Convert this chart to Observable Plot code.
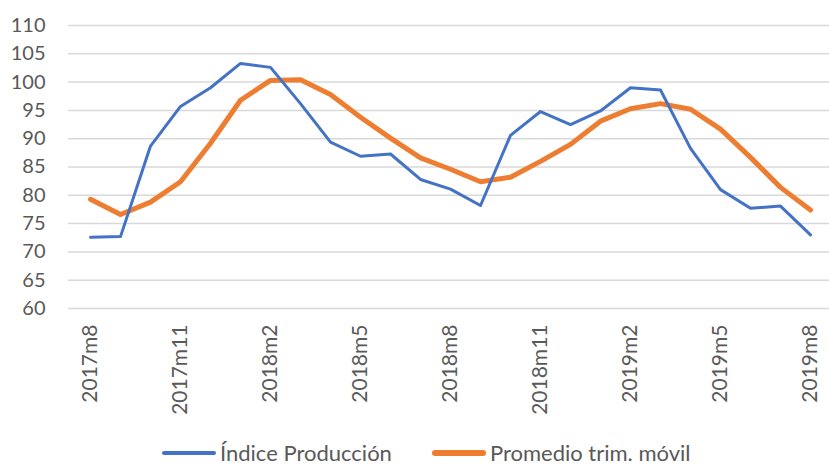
<!DOCTYPE html>
<html>
<head>
<meta charset="utf-8">
<script src="https://cdn.jsdelivr.net/npm/d3@7"></script>
<script src="https://cdn.jsdelivr.net/npm/@observablehq/plot@0.6"></script>
<style>
  html, body { margin: 0; padding: 0; background: #fff; }
  body { width: 829px; height: 465px; overflow: hidden; font-family: Lato, "Open Sans", sans-serif; }
  #chart svg { display: block; }
  .legend { display: flex; align-items: center; height: 22px; line-height: 22px; margin-top: 17px; padding-left: 162px; color: #595959; font-size: 22px; font-family: Lato, sans-serif; }
  .legend .item { display: flex; align-items: center; }
  .legend .sw { width: 54px; border-radius: 3px; margin-right: 4px; }
</style>
</head>
<body>
<div id="chart"></div>
<div class="legend">
  <div class="item"><span class="sw" style="height:4px;background:#4472C4"></span><span>Índice Producción</span></div>
  <div class="item" style="margin-left:40px"><span class="sw" style="height:6px;background:#ED7D31"></span><span>Promedio trim. móvil</span></div>
</div>
<script>
const months = ["2017m8","2017m9","2017m10","2017m11","2017m12","2018m1","2018m2","2018m3","2018m4","2018m5","2018m6","2018m7","2018m8","2018m9","2018m10","2018m11","2018m12","2019m1","2019m2","2019m3","2019m4","2019m5","2019m6","2019m7","2019m8"];
const indiceProduccion = [72.6,72.7,88.7,95.7,99.0,103.3,102.6,96.2,89.4,86.9,87.3,82.8,81.1,78.2,90.6,94.8,92.5,94.9,99.0,98.6,88.3,81.0,77.7,78.1,73.0];
const promedioTrim = [79.3,76.6,78.8,82.4,89.2,96.8,100.3,100.4,97.8,93.8,90.1,86.6,84.6,82.4,83.2,86.0,89.0,93.1,95.3,96.2,95.2,91.7,86.7,81.4,77.4];
const xTickLabels = ["2017m8","2017m11","2018m2","2018m5","2018m8","2018m11","2019m2","2019m5","2019m8"];
const yTicks = [60,65,70,75,80,85,90,95,100,105,110];

const seriesA = months.map((m, i) => ({m, v: indiceProduccion[i]}));
const seriesB = months.map((m, i) => ({m, v: promedioTrim[i]}));

const chart = Plot.plot({
  width: 829,
  height: 425,
  marginLeft: 68,
  marginRight: 0,
  marginTop: 25,
  marginBottom: 117,
  style: {fontFamily: "Lato, sans-serif", fontSize: "20px", color: "#595959", background: "#fff"},
  x: {type: "point", domain: months, padding: 0, insetLeft: 15, insetRight: 12, label: null},
  y: {domain: [60, 110], label: null},
  marks: [
    Plot.ruleY(yTicks, {stroke: "#d9d9d9", strokeWidth: 1.5}),
    Plot.axisY({ticks: yTicks, tickSize: 0, tickPadding: 23, fontSize: 20, fill: "#595959", label: null}),
    Plot.axisX({ticks: xTickLabels, tickSize: 0, tickPadding: 16, tickRotate: -90, fontSize: 21, fill: "#595959", label: null}),
    Plot.line(seriesB, {x: "m", y: "v", stroke: "#ED7D31", strokeWidth: 5, strokeLinecap: "round", strokeLinejoin: "round"}),
    Plot.line(seriesA, {x: "m", y: "v", stroke: "#4472C4", strokeWidth: 3, strokeLinecap: "round", strokeLinejoin: "round"})
  ]
});
document.getElementById("chart").appendChild(chart);
</script>
</body>
</html>
